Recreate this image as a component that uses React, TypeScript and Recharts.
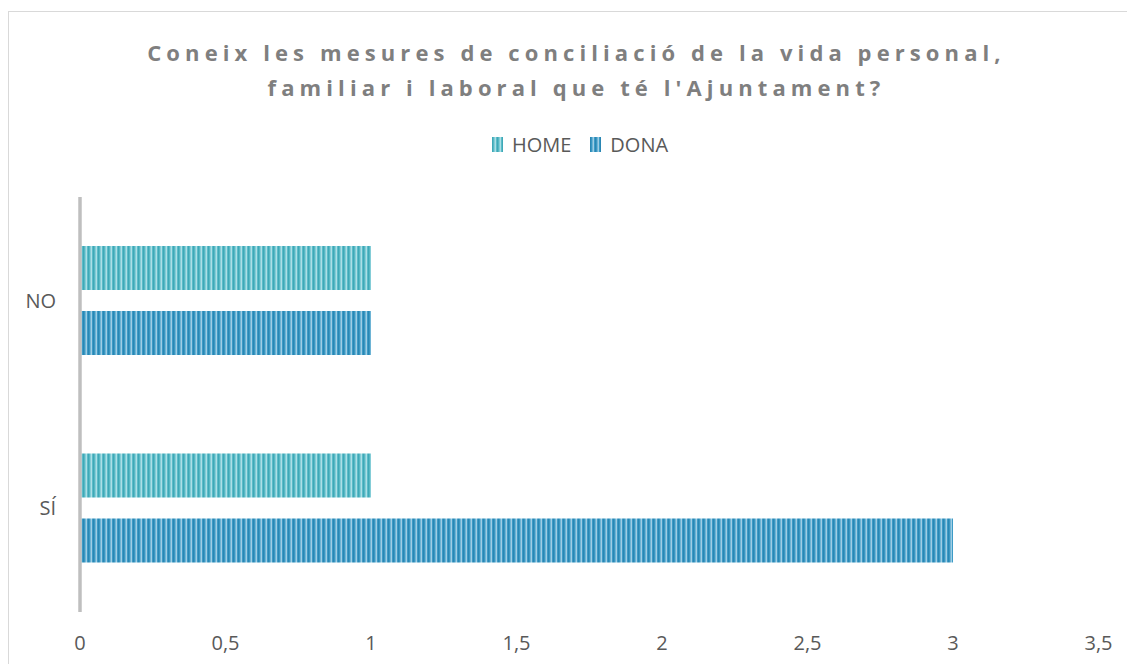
import React from "react";
import { BarChart, Bar, XAxis, YAxis } from "recharts";

const categories = ["NO", "SÍ"];
const homeValues = [1, 1];
const donaValues = [1, 3];
const xTicks = [0, 0.5, 1, 1.5, 2, 2.5, 3, 3.5];
const seriesNames = ["HOME", "DONA"];
const titleLines = [
  "Coneix les mesures de conciliació de la vida personal,",
  "familiar i laboral que té l'Ajuntament?",
];

const data = categories.map((c, i) => ({
  cat: c,
  HOME: homeValues[i],
  DONA: donaValues[i],
}));

const FONT = "'Open Sans', sans-serif";
const TXT = "#595959";

const fmt = (v: number) => String(v).replace(".", ",");

const LegendContent = () => (
  <div
    style={{
      position: "absolute",
      top: 124.5,
      left: 0,
      width: 1127,
      display: "flex",
      justifyContent: "center",
      alignItems: "center",
      height: 24,
      paddingLeft: 17,
      boxSizing: "border-box",
      fontFamily: FONT,
      fontSize: 20,
      color: TXT,
      lineHeight: "24px",
    }}
  >
    {seriesNames.map((n, i) => (
      <div key={n} style={{ display: "flex", alignItems: "center", marginRight: i === 0 ? 19 : 0 }}>
        <svg width={11} height={15} style={{ marginRight: 9 }}>
          <rect width={11} height={15} fill={i === 0 ? "url(#patHome)" : "url(#patDona)"} />
        </svg>
        <span>{n}</span>
      </div>
    ))}
  </div>
);

export default function App() {
  return (
    <div style={{ position: "relative", width: 1127, height: 656, background: "#fff" }}>
      <style>{`body{overflow:hidden}`}</style>
      <svg width={0} height={0} style={{ position: "absolute" }}>
        <defs>
          <pattern id="patHome" patternUnits="userSpaceOnUse" width={5} height={10}>
            <rect width={5} height={10} fill="#5bbcc8" />
            <rect x={0} width={1.2} height={10} fill="#3fa8b7" />
            <rect x={2.5} width={1.5} height={10} fill="#acdfe6" />
          </pattern>
          <pattern id="patDona" patternUnits="userSpaceOnUse" width={5} height={10}>
            <rect width={5} height={10} fill="#3d9bc6" />
            <rect x={0} width={1.2} height={10} fill="#2a86b3" />
            <rect x={2.5} width={1.5} height={10} fill="#9fcde4" />
          </pattern>
        </defs>
      </svg>
      <div
        style={{
          position: "absolute",
          left: 0,
          top: 3,
          width: 1127,
          height: 653,
          borderTop: "1px solid #d9d9d9",
          borderLeft: "1px solid #d9d9d9",
          boxSizing: "border-box",
        }}
      />
      <div
        style={{
          position: "absolute",
          left: 0,
          top: 27,
          width: 1127,
          textAlign: "center",
          fontFamily: FONT,
          fontWeight: 700,
          fontSize: 22,
          letterSpacing: 5.1,
          lineHeight: "35px",
          color: "#7f7f7f",
          paddingLeft: 10,
          boxSizing: "border-box",
        }}
      >
        {titleLines.map((l) => (
          <div key={l}>{l}</div>
        ))}
      </div>
      <LegendContent />
      <div style={{ position: "absolute", left: 0, top: 0 }}>
        <BarChart
          width={1127}
          height={656}
          data={data}
          layout="vertical"
          margin={{ top: 189, right: 36.5, bottom: 12, left: 12 }}
          barSize={44}
          barGap={21}
        >
          <XAxis
            type="number"
            domain={[0, 3.5]}
            ticks={xTicks}
            tickFormatter={fmt}
            axisLine={false}
            tickLine={false}
            tickSize={0}
            tickMargin={24}
            height={40}
            tick={{ fill: TXT, fontSize: 20, fontFamily: FONT }}
            interval={0}
          />
          <YAxis
            type="category"
            dataKey="cat"
            width={60}
            axisLine={{ stroke: "#bfbfbf", strokeWidth: 3.5 }}
            tickLine={false}
            tickSize={0}
            tickMargin={24}
            tick={{ fill: TXT, fontSize: 20, fontFamily: FONT }}
          />
          <Bar dataKey="HOME" fill="url(#patHome)" isAnimationActive={false} />
          <Bar dataKey="DONA" fill="url(#patDona)" isAnimationActive={false} />
        </BarChart>
      </div>
    </div>
  );
}
